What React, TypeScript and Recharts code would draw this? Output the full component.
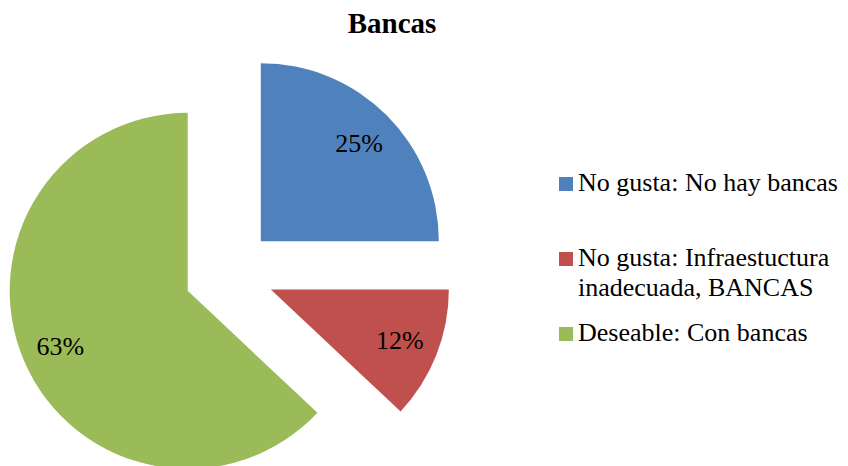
import React from 'react';
import { PieChart, Pie, Cell } from 'recharts';

const title = 'Bancas';
const categories = [
  'No gusta: No hay bancas',
  'No gusta: Infraestuctura inadecuada, BANCAS',
  'Deseable: Con bancas',
];
const values = [25, 12, 63];
const colors = ['#4F81BD', '#C0504D', '#9BBB59'];

const W = 848;
const H = 466;
const CX = 229;
const CY = 273;
const R = 178;
const EXPLODE = 45;
const LABEL_POS = 0.78;
const FONT = '"Liberation Serif", "Times New Roman", serif';
const RAD = Math.PI / 180;

const total = values.reduce((a, b) => a + b, 0);
let cum = 0;
const slices = values.map((v, i) => {
  const start = 90 - (360 * cum) / total;
  cum += v;
  const end = 90 - (360 * cum) / total;
  const mid = ((start + end) / 2) * RAD;
  return {
    name: categories[i],
    value: v,
    start,
    end,
    cx: CX + EXPLODE * Math.cos(mid),
    cy: CY - EXPLODE * Math.sin(mid),
    color: colors[i],
    pct: Math.round((v / total) * 100) + '%',
  };
});

const makeLabel = (text: string) => (props: any) => {
  const { cx, cy, midAngle, outerRadius } = props;
  const x = cx + LABEL_POS * outerRadius * Math.cos(-midAngle * RAD);
  const y = cy + LABEL_POS * outerRadius * Math.sin(-midAngle * RAD);
  return (
    <text
      x={x}
      y={y}
      textAnchor="middle"
      dominantBaseline="central"
      fill="#000"
      style={{ fontFamily: FONT, fontSize: 26 }}
    >
      {text}
    </text>
  );
};

const legendTops = [168, 243, 318];

export default function App() {
  return (
    <div style={{ position: 'absolute', left: 0, top: 0, width: W, height: H, background: '#fff', fontFamily: FONT }}>
      <PieChart width={W} height={H} margin={{ top: 0, right: 0, bottom: 0, left: 0 }}>
        {slices.map((s, i) => (
          <Pie
            key={i}
            data={[{ name: s.name, value: s.value }]}
            dataKey="value"
            nameKey="name"
            cx={s.cx}
            cy={s.cy}
            outerRadius={R}
            innerRadius={0}
            startAngle={s.start}
            endAngle={s.end}
            stroke="none"
            isAnimationActive={false}
            labelLine={false}
            label={makeLabel(s.pct)}
          >
            <Cell fill={s.color} />
          </Pie>
        ))}
      </PieChart>
      <div
        style={{
          position: 'absolute',
          left: 292,
          top: 8,
          width: 200,
          textAlign: 'center',
          fontWeight: 'bold',
          fontSize: 29,
          lineHeight: '30px',
          color: '#000',
        }}
      >
        {title}
      </div>
      {categories.map((c, i) => (
        <div key={i} style={{ position: 'absolute', left: 559, top: legendTops[i], width: 290 }}>
          <div style={{ position: 'absolute', left: 0, top: 9, width: 14, height: 14, background: colors[i] }} />
          <div style={{ position: 'absolute', left: 19, top: 0, width: 268, fontSize: 26, lineHeight: '30px', color: '#000' }}>
            {c}
          </div>
        </div>
      ))}
    </div>
  );
}
